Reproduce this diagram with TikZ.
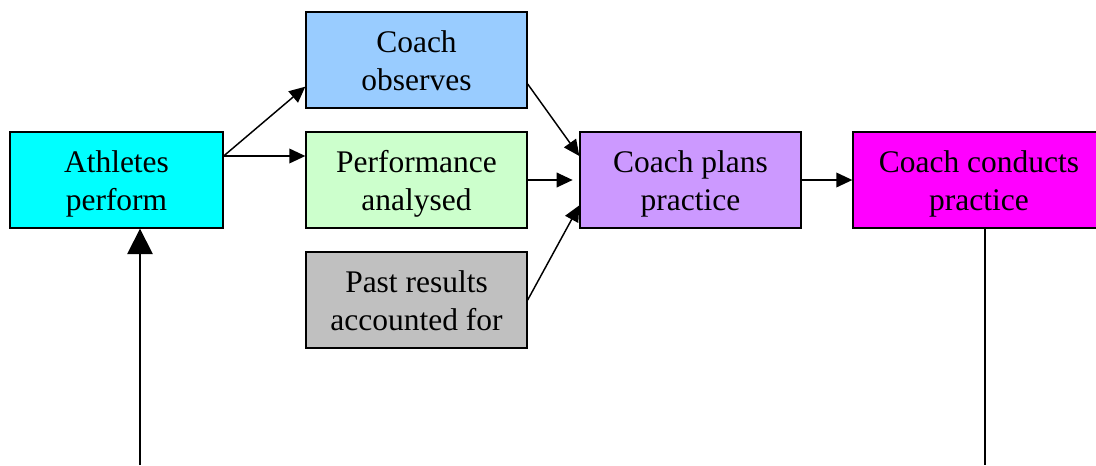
\documentclass[tikz,border=0pt]{standalone}
\usepackage{fontspec}
\setmainfont{Liberation Serif}
\usetikzlibrary{arrows.meta}

\definecolor{athlCol}{HTML}{00FFFF}
\definecolor{obsCol}{HTML}{99CCFF}
\definecolor{analCol}{HTML}{CCFFCC}
\definecolor{pastCol}{HTML}{C0C0C0}
\definecolor{plansCol}{HTML}{CC99FF}
\definecolor{condCol}{HTML}{FF00FF}

\begin{document}
\begin{tikzpicture}[x = 0.75pt, y = -0.75pt, font = \fontsize{23.6}{28.5}\selectfont]
	\tikzstyle{boxStyle} = [shape = rectangle, draw, line width = 1pt, align = center, minimum width = 165.75pt, minimum height = 72pt, inner sep = 0pt, text height = 45pt, text depth = 0pt]
	\tikzstyle{edgeStyle} = [line width = 1.1pt, -{Triangle[length = 12pt, width = 11pt]}]
	\tikzstyle{bigEdgeStyle} = [line width = 1.1pt, -{Triangle[length = 19pt, width = 19pt]}]
	\useasboundingbox (0, 0) rectangle (1096, 465);
	\node[boxStyle, fill = athlCol, minimum width = 159.75pt] (athl) at (116.5, 180) {Athletes\\perform};
	\node[boxStyle, fill = obsCol] (obs) at (416.5, 60) {Coach\\observes};
	\node[boxStyle, fill = analCol] (anal) at (416.5, 180) {Performance\\analysed};
	\node[boxStyle, fill = pastCol] (past) at (416.5, 300) {Past results\\accounted for};
	\node[boxStyle, fill = plansCol] (plans) at (690.5, 180) {Coach plans\\practice};
	\node[boxStyle, fill = condCol, minimum width = 189pt] (cond) at (979, 180) {Coach conducts\\practice};
	\coordinate (inL) at (140, 465);
	\coordinate (outR) at (985, 465);
	\draw[edgeStyle] ([yshift = 18pt]athl.east) -- ([yshift = 16.5pt]obs.south west);
	\draw[edgeStyle] ([yshift = 18pt]athl.east) -- ([yshift = 18pt]anal.west);
	\draw[edgeStyle] ([yshift = -18pt]obs.east) -- ([yshift = 18pt]plans.west);
	\draw[edgeStyle] (anal.east) -- ([xshift = -5pt]plans.west);
	\draw[edgeStyle] (past.east) -- ([yshift = -19pt]plans.west);
	\draw[edgeStyle] (plans.east) -- (cond.west);
	\draw[bigEdgeStyle] (inL) -- (inL |- athl.south);
	\draw[line width = 1.1pt] (outR |- cond.south) -- (outR);
\end{tikzpicture}
\end{document}
